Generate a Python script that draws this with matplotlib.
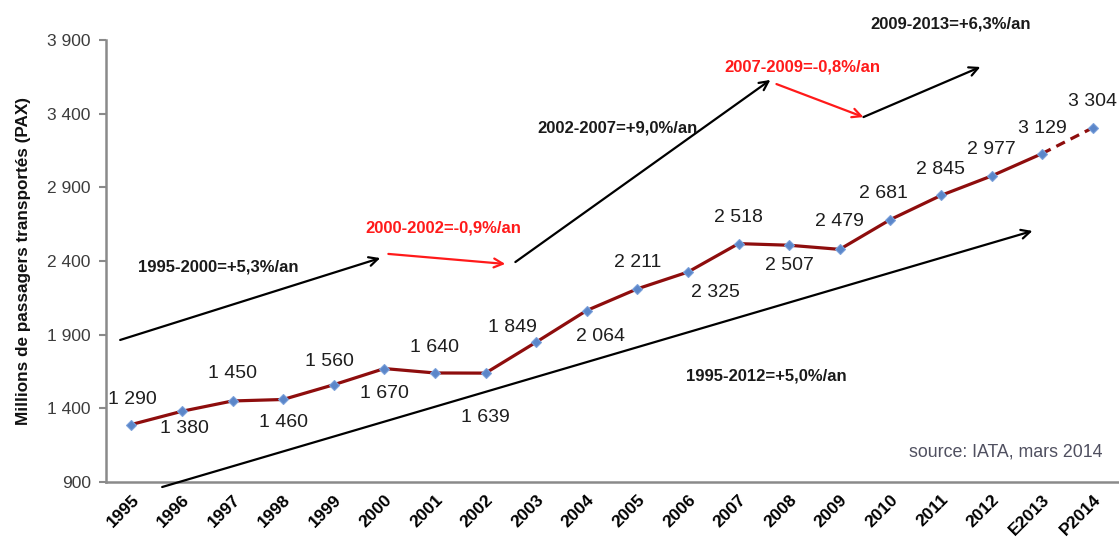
import matplotlib
matplotlib.use("Agg")
import matplotlib.pyplot as plt
from matplotlib.ticker import FuncFormatter

plt.rcParams['font.family'] = ['Liberation Sans', 'DejaVu Sans']

# data
years = ['1995', '1996', '1997', '1998', '1999', '2000', '2001', '2002', '2003',
         '2004', '2005', '2006', '2007', '2008', '2009', '2010', '2011', '2012',
         'E2013', 'P2014']
passengers = [1290, 1380, 1450, 1460, 1560, 1670, 1640, 1639, 1849, 2064,
              2211, 2325, 2518, 2507, 2479, 2681, 2845, 2977, 3129, 3304]

# label offsets in pixels (dx, dy) from each point
label_offsets = [(1, 25), (3, -17), (0, 27), (0, -23), (-4, 23), (0, -25),
                 (0, 25), (0, -44), (-24, 15), (14, -26), (0, 26), (28, -20),
                 (0, 26), (0, -20), (0, 28), (-7, 26), (0, 26), (0, 26),
                 (0, 25), (0, 26)]

# trend arrows: (start, end, colour) in (category index, value)
trend_arrows = [
    ((-0.22, 1864), (4.92, 2420), 'black'),
    ((5.08, 2448), (7.39, 2380), '#ff1a1a'),
    ((7.59, 2393), (12.63, 3629), 'black'),
    ((12.75, 3601), (14.47, 3377), '#ff1a1a'),
    ((14.47, 3377), (16.78, 3717), 'black'),
    ((0.61, 866), (17.81, 2604), 'black'),
]
trend_labels = [
    ('1995-2000=+5,3%/an', 1.72, 2359, '#1a1a1a'),
    ('2000-2002=-0,9%/an', 6.17, 2624, '#ff1a1a'),
    ('2002-2007=+9,0%/an', 9.60, 3303, '#1a1a1a'),
    ('2007-2009=-0,8%/an', 13.26, 3717, '#ff1a1a'),
    ('2009-2013=+6,3%/an', 16.19, 4009, '#1a1a1a'),
    ('1995-2012=+5,0%/an', 12.55, 1619, '#1a1a1a'),
]

fig = plt.figure(figsize=(11.19, 5.42), dpi=100)
ax = fig.add_axes([106 / 1119, 60 / 542, 1012 / 1119, 442 / 542])

x = list(range(len(years)))
line_col = '#8e0d0d'
ax.plot(x[:-1], passengers[:-1], color=line_col, lw=2.3, zorder=3)
ax.plot(x[-2:], passengers[-2:], color=line_col, lw=2.3, ls=(0, (3, 2)), zorder=3)
ax.plot(x, passengers, ls='none', marker='D', ms=5, mfc='#5b86c9',
        mec='#7aa0da', mew=0.8, zorder=4)

for xi, v, (dx, dy) in zip(x, passengers, label_offsets):
    lab = f'{v:,}'.replace(',', ' ')
    ax.annotate(lab, (xi, v), xytext=(dx, dy), textcoords='offset pixels',
                ha='center', va='center', fontsize=14, color='#1e1e1e')

for (x0, y0), (x1, y1), col in trend_arrows:
    ax.annotate('', xy=(x1, y1), xytext=(x0, y0), annotation_clip=False,
                arrowprops=dict(arrowstyle='->', lw=1.6, color=col,
                                mutation_scale=16, shrinkA=0, shrinkB=0))

for txt, tx, ty, col in trend_labels:
    ax.text(tx, ty, txt, ha='center', va='center', fontsize=12,
            fontweight='bold', color=col, clip_on=False)

ax.text(0.985, 0.068, 'source: IATA, mars 2014', transform=ax.transAxes,
        ha='right', va='center', fontsize=12.8, color='#505060')

ax.set_xlim(-0.5, len(years) - 0.5)
ax.set_ylim(900, 3900)
ax.set_yticks(range(900, 3901, 500))
ax.yaxis.set_major_formatter(FuncFormatter(lambda v, p: f'{int(v):,}'.replace(',', ' ')))
ax.set_xticks(x)
ax.set_xticklabels(years, rotation=45, ha='right', rotation_mode='anchor',
                   fontsize=12.5, fontweight='bold')

for s in ['top', 'right']:
    ax.spines[s].set_visible(False)
for s in ['left', 'bottom']:
    ax.spines[s].set_color('#8a8a8a')
    ax.spines[s].set_linewidth(1.8)
ax.tick_params(axis='y', length=5, width=1.5, color='#8a8a8a',
               labelsize=12.5, labelcolor='#3c3c3c', pad=6)
ax.tick_params(axis='x', length=0, pad=7)

fig.text(24 / 1119, 1 - 261 / 542, 'Millions de passagers transportés (PAX)',
         rotation=90, ha='center', va='center', fontsize=12.3, fontweight='bold',
         color='#111111')

fig.savefig('out.png', dpi=100)
